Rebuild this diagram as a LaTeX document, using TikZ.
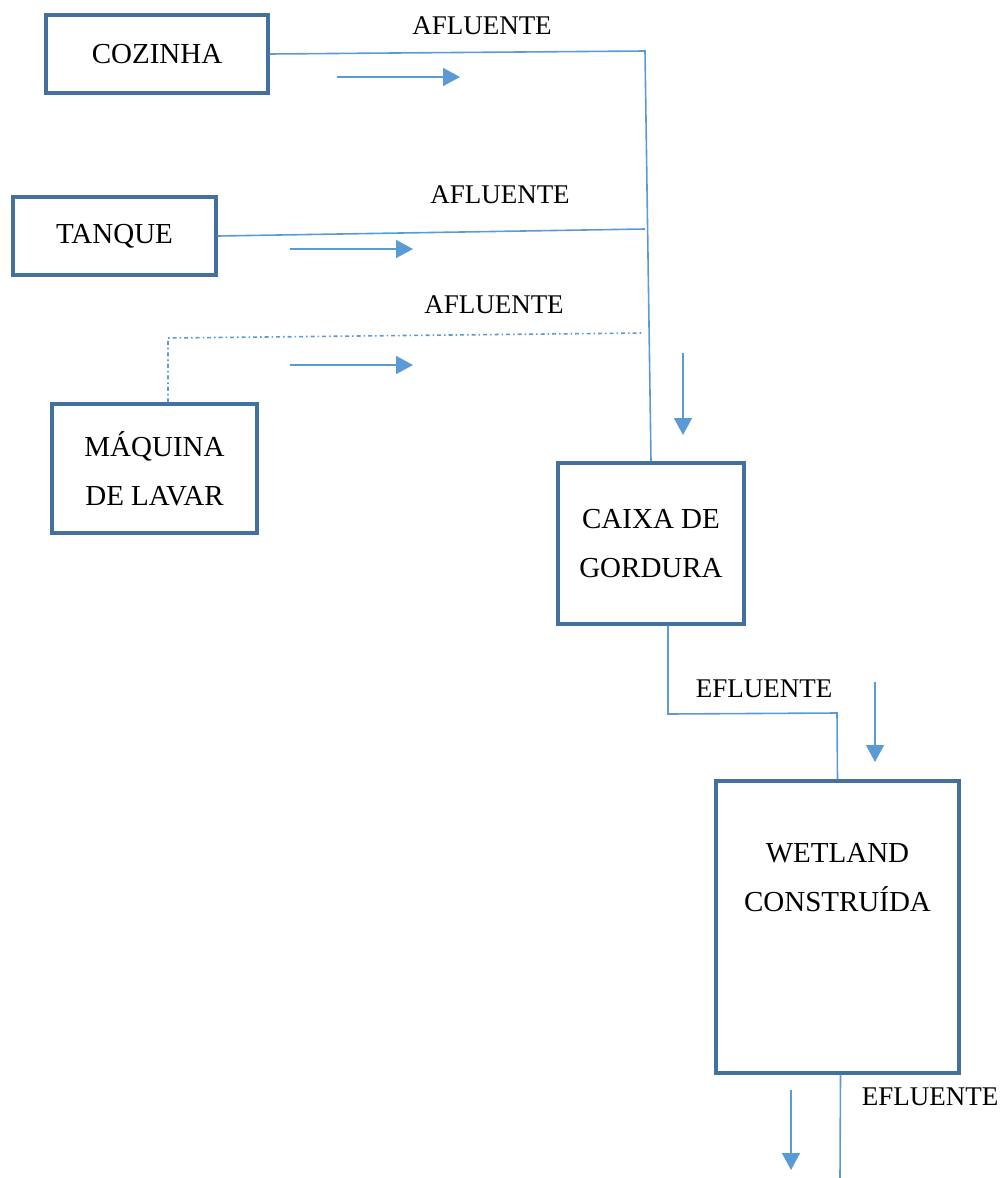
\documentclass[tikz,border=0pt]{standalone}
\usepackage{fontspec}
\setmainfont{Liberation Serif}
\usepackage{tikz}
\usetikzlibrary{arrows.meta, positioning}

\definecolor{boxblue}{HTML}{41719C}
\definecolor{lineblue}{HTML}{5B9BD5}

\begin{document}
\begin{tikzpicture}[
    x=1pt, y=-1pt,
    box/.style={rectangle, draw=boxblue, line width=3.2pt, align=center, inner sep=0pt, font=\fontsize{29}{49}\selectfont},
    flowlabel/.style={font=\fontsize{27}{30}\selectfont, inner sep=0pt},
    pipe/.style={draw=lineblue, line width=1.6pt},
    dashpipe/.style={pipe, dash pattern=on 4pt off 3pt on 1.5pt off 3pt},
    flow/.style={draw=lineblue, line width=1.6pt, -{Triangle[length=17pt, width=18pt]}, fill=lineblue}
]
    \useasboundingbox (0,0) rectangle (1000,1178);

    % Boxes
    \node[box, minimum width=222pt, minimum height=78pt] (cozinha) at (157,54) {COZINHA};
    \node[box, minimum width=203pt, minimum height=78pt] (tanque) at (114.5,236) {TANQUE};
    \node[box, minimum width=205pt, minimum height=129pt] (maquina) at (154.5,468.5) {MÁQUINA\\DE LAVAR};
    \node[box, minimum width=186pt, minimum height=161pt] (caixa) at (651,543.5) {CAIXA DE\\GORDURA};
    \node[box, minimum width=243pt, minimum height=292pt] (wetland) at (837.5,927) {};
    \node[box, draw=none, below=62pt of wetland.north] (wetlandtxt) {WETLAND\\CONSTRUÍDA};

    % Junction points
    \coordinate (j1) at (645,51);
    \coordinate (j2) at (645,229);
    \coordinate (m1) at (168,338);
    \coordinate (j3) at (642,333);
    \coordinate (e1) at (668,714);
    \coordinate (e2) at (837,713);
    \coordinate (out) at (840,1178);

    % Pipes
    \draw[pipe] (cozinha.east) -- (j1) -- (caixa.north);
    \draw[pipe] (tanque.east) -- (j2);
    \draw[dashpipe] ([xshift=13.5pt]maquina.north) -- (m1) -- (j3);
    \draw[pipe] ([xshift=17pt]caixa.south) -- (e1) -- (e2) -- (wetland.north);
    \draw[pipe] ([xshift=3pt]wetland.south) -- (out);

    % Labels
    \node[flowlabel] (af1) at (482,26) {AFLUENTE};
    \node[flowlabel] (af2) at (500,195) {AFLUENTE};
    \node[flowlabel] (af3) at (494,305) {AFLUENTE};
    \node[flowlabel] (ef1) at (764,689) {EFLUENTE};
    \node[flowlabel] (ef2) at (930,1097) {EFLUENTE};

    % Flow arrows
    \coordinate (a1s) at (337,77);  \coordinate (a1e) at (460,77);
    \coordinate (a2s) at (290,249); \coordinate (a2e) at (413,249);
    \coordinate (a3s) at (290,365); \coordinate (a3e) at (413,365);
    \coordinate (d1s) at (683,353); \coordinate (d1e) at (683,435);
    \coordinate (d2s) at (875,682); \coordinate (d2e) at (875,762);
    \coordinate (d3s) at (791,1090); \coordinate (d3e) at (791,1170);
    \draw[flow] (a1s) -- (a1e);
    \draw[flow] (a2s) -- (a2e);
    \draw[flow] (a3s) -- (a3e);
    \draw[flow] (d1s) -- (d1e);
    \draw[flow] (d2s) -- (d2e);
    \draw[flow] (d3s) -- (d3e);

\end{tikzpicture}
\end{document}
